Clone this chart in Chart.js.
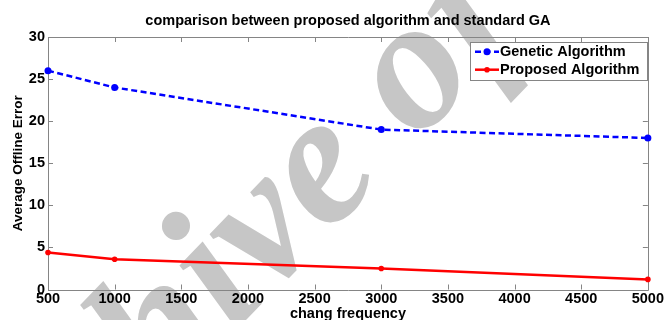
<!DOCTYPE html>
<html>
<head>
<meta charset="utf-8">
<script src="https://cdn.jsdelivr.net/npm/chart.js@4.4.1/dist/chart.umd.min.js"></script>
<style>
  html, body { margin: 0; padding: 0; background: #fff; }
  #wrap { width: 665px; height: 320px; }
</style>
</head>
<body>
<div id="wrap"><canvas id="c" width="665" height="320"></canvas></div>
<script>
const changFrequency = [500, 1000, 3000, 5000];
const geneticAlgorithm = [26, 24, 19, 18];
const proposedAlgorithm = [4.4, 3.6, 2.5, 1.2];
const chartTitle = 'comparison between proposed algorithm and standard GA';
const xAxisTitle = 'chang frequency';
const yAxisTitle = 'Average Offline Error';
const watermarkText = 'Archive of SID';

const FONT = '"Liberation Sans", Arial, sans-serif';
const BOX = '#858585';

const bgAndWatermark = {
  id: 'bgAndWatermark',
  beforeDraw(chart) {
    const ctx = chart.ctx;
    ctx.save();
    ctx.fillStyle = '#ffffff';
    ctx.fillRect(0, 0, chart.width, chart.height);
    ctx.font = 'italic bold 187px "Liberation Serif", "DejaVu Serif", serif';
    ctx.fillStyle = '#c6c6c6';
    ctx.translate(233.5, 333);
    ctx.rotate(-46 * Math.PI / 180);
    const pre = ctx.measureText('Arch').width;
    ctx.textBaseline = 'alphabetic';
    ctx.fillText(watermarkText, -pre, 0);
    ctx.restore();
  }
};

const boxAndTicks = {
  id: 'boxAndTicks',
  beforeDatasetsDraw(chart) {
    const {ctx, chartArea: a, scales: {x, y}} = chart;
    ctx.save();
    ctx.strokeStyle = BOX;
    ctx.lineWidth = 1;
    ctx.beginPath();
    ctx.rect(Math.round(a.left) + 0.5, Math.round(a.top) + 0.5,
             Math.round(a.right - a.left), Math.round(a.bottom - a.top));
    ctx.stroke();
    const L = 5;
    ctx.beginPath();
    x.ticks.forEach(t => {
      const px = Math.round(x.getPixelForValue(t.value)) + 0.5;
      ctx.moveTo(px, a.bottom); ctx.lineTo(px, a.bottom - L);
      ctx.moveTo(px, a.top); ctx.lineTo(px, a.top + L);
    });
    y.ticks.forEach(t => {
      const py = Math.round(y.getPixelForValue(t.value)) + 0.5;
      ctx.moveTo(a.left, py); ctx.lineTo(a.left + L, py);
      ctx.moveTo(a.right, py); ctx.lineTo(a.right - L, py);
    });
    ctx.stroke();
    ctx.restore();
  }
};

const boxLegend = {
  id: 'boxLegend',
  afterDatasetsDraw(chart) {
    const ctx = chart.ctx;
    const x0 = 470.5, y0 = 42.5, w = 177, h = 38;
    ctx.save();
    ctx.fillStyle = '#ffffff';
    ctx.fillRect(x0, y0, w, h);
    ctx.strokeStyle = BOX;
    ctx.lineWidth = 1;
    ctx.strokeRect(x0, y0, w, h);
    const rows = [51.7, 69.7];
    chart.data.datasets.forEach((ds, i) => {
      const yy = rows[i];
      ctx.strokeStyle = ds.borderColor;
      ctx.lineWidth = ds.borderWidth;
      ctx.setLineDash(ds.borderDash || []);
      ctx.beginPath();
      ctx.moveTo(475, yy); ctx.lineTo(499, yy);
      ctx.stroke();
      ctx.setLineDash([]);
      ctx.fillStyle = ds.pointBackgroundColor;
      ctx.beginPath();
      ctx.arc(487, yy, ds.pointRadius, 0, Math.PI * 2);
      ctx.fill();
      ctx.fillStyle = '#000';
      ctx.font = 'bold 14.5px ' + FONT;
      ctx.textBaseline = 'middle';
      ctx.textAlign = 'left';
      ctx.fillText(ds.label, 500, yy);
    });
    ctx.restore();
  }
};

new Chart(document.getElementById('c'), {
  type: 'line',
  data: {
    datasets: [
      {
        label: 'Genetic Algorithm',
        data: changFrequency.map((v, i) => ({x: v, y: geneticAlgorithm[i]})),
        borderColor: '#0000ff',
        backgroundColor: '#0000ff',
        pointBackgroundColor: '#0000ff',
        pointBorderColor: '#0000ff',
        borderWidth: 2.5,
        borderDash: [6, 3.5],
        pointRadius: 3.5,
        pointBorderWidth: 0,
        tension: 0,
        clip: false
      },
      {
        label: 'Proposed Algorithm',
        data: changFrequency.map((v, i) => ({x: v, y: proposedAlgorithm[i]})),
        borderColor: '#ff0000',
        backgroundColor: '#ff0000',
        pointBackgroundColor: '#ff0000',
        pointBorderColor: '#ff0000',
        borderWidth: 2.5,
        pointRadius: 2.8,
        pointBorderWidth: 0,
        tension: 0,
        clip: false
      }
    ]
  },
  options: {
    responsive: false,
    animation: false,
    devicePixelRatio: 1,
    layout: { padding: { left: 0, right: 15, top: 0, bottom: 0 } },
    plugins: {
      legend: { display: false },
      tooltip: { enabled: false },
      title: {
        display: true,
        text: chartTitle,
        fullSize: false,
        color: '#000',
        font: { family: FONT, size: 14.5, weight: 'bold', lineHeight: 1.2 },
        padding: { top: 12, bottom: 7.6 }
      }
    },
    scales: {
      x: {
        type: 'linear',
        min: 500,
        max: 5000,
        afterFit(s) { s.height = 30.5; },
        grid: { display: false, drawTicks: false },
        border: { display: false },
        ticks: {
          stepSize: 500,
          padding: 1,
          color: '#000',
          maxRotation: 0,
          autoSkip: false,
          callback: (v) => String(v),
          font: { family: FONT, size: 14.5, weight: 'bold' }
        },
        title: {
          display: true,
          text: xAxisTitle,
          color: '#000',
          font: { family: FONT, size: 14.5, weight: 'bold', lineHeight: 1 },
          padding: { top: 0, bottom: -1 }
        }
      },
      y: {
        min: 0,
        max: 30,
        afterFit(s) { s.width = 48; },
        grid: { display: false, drawTicks: false },
        border: { display: false },
        ticks: {
          stepSize: 5,
          padding: 3,
          color: '#000',
          callback: (v) => String(v),
          font: { family: FONT, size: 14.5, weight: 'bold' }
        },
        title: {
          display: true,
          text: yAxisTitle,
          color: '#000',
          font: { family: FONT, size: 13.5, weight: 'bold', lineHeight: 1.2 },
          padding: { top: 9.7, bottom: 0 }
        }
      }
    }
  },
  plugins: [bgAndWatermark, boxAndTicks, boxLegend]
});
</script>
</body>
</html>
